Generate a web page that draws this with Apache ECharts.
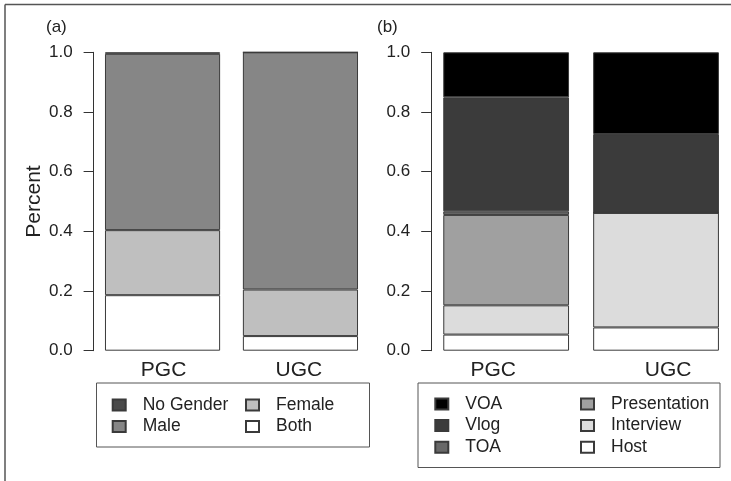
<!DOCTYPE html>
<html>
<head>
<meta charset="utf-8">
<script src="https://cdn.jsdelivr.net/npm/echarts@6/dist/echarts.min.js"></script>
<style>html,body{margin:0;padding:0;background:#fff}#c{width:731px;height:481px}</style>
</head>
<body>
<div id="c"></div>
<script>
// ---- data ----
var categories = ['PGC', 'UGC'];
var yTicks = [0, 0.2, 0.4, 0.6, 0.8, 1.0];

// panel (a): gender
var noGender = [0.005, 0];
var male     = [0.591, 0.795];
var female   = [0.218, 0.156];
var both     = [0.186, 0.049];

// panel (b): format
var voa          = [0.151, 0.274];
var vlog         = [0.382, 0.264];
var toa          = [0.012, 0];
var presentation = [0.303, 0];
var interview    = [0.098, 0.384];
var host         = [0.054, 0.078];

var FONT = '"Liberation Sans", Arial, sans-serif';
var chart = echarts.init(document.getElementById('c'), null, {renderer: 'canvas'});

function yAxis(gi, showName) {
  return {
    type: 'value', gridIndex: gi, min: 0, max: 1, interval: 0.2,
    name: showName ? 'Percent' : '', nameLocation: 'middle', nameRotate: 90, nameGap: 48,
    nameTextStyle: {fontFamily: FONT, fontSize: 21, color: '#222'},
    axisLine: {show: true, lineStyle: {color: '#333', width: 1}},
    axisTick: {show: true, length: 10, inside: false, lineStyle: {color: '#333'}},
    splitLine: {show: false},
    axisLabel: {margin: 21, fontFamily: FONT, fontSize: 17, color: '#222',
      formatter: function (v) { return v.toFixed(1); }}
  };
}
function xAxis(gi, shifts) {
  return {
    type: 'category', gridIndex: gi, data: categories,
    axisLine: {show: false}, axisTick: {show: false}, splitLine: {show: false},
    axisLabel: {margin: 9, fontFamily: FONT, fontSize: 21, color: '#222',
      formatter: function (v, i) { return '{s' + i + '|' + v + '}'; },
      rich: {
        s0: {fontFamily: FONT, fontSize: 21, color: '#222', padding: shifts[0]},
        s1: {fontFamily: FONT, fontSize: 21, color: '#222', padding: shifts[1]}
      }}
  };
}
function bar(name, data, color, gi, bw) {
  return {
    type: 'bar', name: name, data: data, stack: 's' + gi,
    xAxisIndex: gi, yAxisIndex: gi, barWidth: bw,
    itemStyle: {color: color, borderColor: '#3a3a3a', borderWidth: 1},
    emphasis: {disabled: true}, animation: false
  };
}
function legend(names, left, top) {
  return {
    data: names, orient: 'vertical', left: left, top: top, padding: 0,
    itemGap: 0, itemWidth: 13, itemHeight: 11, icon: 'rect',
    selectedMode: false,
    textStyle: {fontFamily: FONT, fontSize: 17.5, color: '#222', lineHeight: 21.6, padding: [0, 0, 0, 12]}
  };
}

var cGender = {'No Gender': '#4a4a4a', 'Male': '#868686', 'Female': '#bfbfbf', 'Both': '#ffffff'};
var cFormat = {'VOA': '#000000', 'Vlog': '#3b3b3b', 'TOA': '#686868', 'Presentation': '#a0a0a0', 'Interview': '#dcdcdc', 'Host': '#ffffff'};

var option = {
  backgroundColor: '#fff',
  animation: false,
  title: [
    {text: '(a)', left: 46, top: 19, padding: 0, textStyle: {fontFamily: FONT, fontSize: 17, fontWeight: 'normal', color: '#222'}},
    {text: '(b)', left: 377, top: 19, padding: 0, textStyle: {fontFamily: FONT, fontSize: 17, fontWeight: 'normal', color: '#222'}}
  ],
  grid: [
    {left: 93.6, top: 52.3, width: 275.8, height: 298.4},
    {left: 431.2, top: 52.3, width: 302, height: 298.4}
  ],
  xAxis: [xAxis(0, [[0, 0, 0, 2], [0, 3, 0, 0]]), xAxis(1, [[0, 26, 0, 0], [0, 0, 0, 24]])],
  yAxis: [yAxis(0, true), yAxis(1, false)],
  legend: [
    legend(['No Gender', 'Male'], 111.7, 394.2),
    legend(['Female', 'Both'], 245, 394.2),
    legend(['VOA', 'Vlog', 'TOA'], 434.3, 393.2),
    legend(['Presentation', 'Interview', 'Host'], 580, 393.2)
  ],
  series: [
    bar('Both', both, cGender['Both'], 0, '83.5%'),
    bar('Female', female, cGender['Female'], 0, '83.5%'),
    bar('Male', male, cGender['Male'], 0, '83.5%'),
    bar('No Gender', noGender, cGender['No Gender'], 0, '83.5%'),
    bar('Host', host, cFormat['Host'], 1, '83.9%'),
    bar('Interview', interview, cFormat['Interview'], 1, '83.9%'),
    bar('Presentation', presentation, cFormat['Presentation'], 1, '83.9%'),
    bar('TOA', toa, cFormat['TOA'], 1, '83.9%'),
    bar('Vlog', vlog, cFormat['Vlog'], 1, '83.9%'),
    bar('VOA', voa, cFormat['VOA'], 1, '83.9%')
  ],
  graphic: [
    {type: 'line', shape: {x1: 5, y1: 4.5, x2: 731, y2: 4.5}, style: {stroke: '#555', lineWidth: 1.5}, silent: true},
    {type: 'line', shape: {x1: 5, y1: 4.5, x2: 5, y2: 481}, style: {stroke: '#555', lineWidth: 1.5}, silent: true},
    {type: 'rect', shape: {x: 96.5, y: 383, width: 273, height: 64}, style: {fill: null, stroke: '#555', lineWidth: 1}, silent: true, z: -1},
    {type: 'rect', shape: {x: 418, y: 383, width: 302, height: 84.5}, style: {fill: null, stroke: '#555', lineWidth: 1}, silent: true, z: -1}
  ]
};
chart.setOption(option);
</script>
</body>
</html>
